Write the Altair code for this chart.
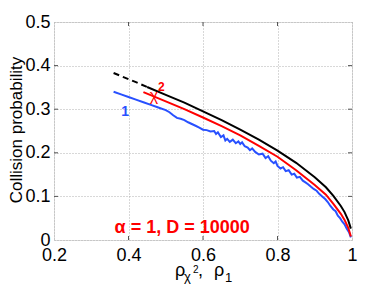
import altair as alt
import pandas as pd

# ---------------- data ----------------
black_dash_x = [0.36, 0.38, 0.40, 0.42, 0.45]
black_dash_y = [0.383, 0.376, 0.369, 0.362, 0.351]

black_x = [0.45, 0.50, 0.55, 0.60, 0.65, 0.70, 0.75, 0.80, 0.85, 0.90,
           0.93, 0.95, 0.97, 0.98, 0.99, 0.997]
black_y = [0.351, 0.333, 0.315, 0.295, 0.275, 0.253, 0.230, 0.205, 0.177, 0.144,
           0.121, 0.101, 0.078, 0.064, 0.045, 0.026]

red_x = [0.44, 0.50, 0.55, 0.60, 0.65, 0.70, 0.75, 0.80, 0.85, 0.90,
         0.93, 0.95, 0.97, 0.98, 0.99, 0.997]
red_y = [0.339, 0.318, 0.300, 0.281, 0.261, 0.240, 0.216, 0.191, 0.160, 0.126,
         0.104, 0.083, 0.060, 0.046, 0.028, 0.008]

blue_x = [0.360, 0.380, 0.400, 0.420, 0.440, 0.460, 0.480, 0.500, 0.510, 0.520,
          0.530, 0.540, 0.550, 0.560, 0.570, 0.580, 0.590, 0.600, 0.610, 0.620,
          0.630, 0.635, 0.640, 0.648, 0.655, 0.660, 0.665, 0.672, 0.680, 0.688,
          0.695, 0.700, 0.705, 0.712, 0.720, 0.726, 0.732, 0.740, 0.750, 0.760,
          0.768, 0.775, 0.782, 0.790, 0.795, 0.800, 0.808, 0.815, 0.822, 0.830,
          0.838, 0.845, 0.852, 0.860, 0.868, 0.875, 0.882, 0.890, 0.897, 0.905,
          0.912, 0.920, 0.928, 0.935, 0.942, 0.950, 0.956, 0.962, 0.968, 0.974,
          0.980, 0.986, 0.992, 0.997]
blue_y = [0.340, 0.334, 0.328, 0.322, 0.316, 0.310, 0.304, 0.298, 0.293, 0.286,
          0.280, 0.278, 0.275, 0.270, 0.266, 0.262, 0.258, 0.253, 0.252, 0.249,
          0.250, 0.243, 0.247, 0.236, 0.240, 0.228, 0.232, 0.225, 0.230, 0.222,
          0.226, 0.220, 0.224, 0.215, 0.212, 0.206, 0.210, 0.202, 0.196, 0.198,
          0.188, 0.192, 0.182, 0.176, 0.180, 0.170, 0.164, 0.167, 0.158, 0.160,
          0.150, 0.152, 0.143, 0.145, 0.136, 0.132, 0.128, 0.122, 0.117, 0.113,
          0.106, 0.100, 0.094, 0.087, 0.078, 0.070, 0.066, 0.056, 0.050, 0.042,
          0.036, 0.026, 0.018, 0.006]

x_ticks = [0.2, 0.4, 0.6, 0.8, 1.0]
y_ticks = [0, 0.1, 0.2, 0.3, 0.4, 0.5]
x_inner_ticks = [0.4, 0.6, 0.8]
y_inner_ticks = [0.1, 0.2, 0.3, 0.4]

label_one = ["1"]
label_one_x = [0.391]
label_one_y = [0.294]
label_chi = ["χ"]
label_chi_x = [0.468]
label_chi_y = [0.330]
label_chi_sup = ["2"]
label_chi_sup_x = [0.488]
label_chi_sup_y = [0.352]
annot_text = ["α = 1, D = 10000"]
annot_x = [0.544]
annot_y = [0.0275]

FONT = "Liberation Sans"
W, H = 298, 218

xs = alt.Scale(domain=[0.2, 1.0], nice=False, zero=False)
ys = alt.Scale(domain=[0.0, 0.5], nice=False, zero=False)

def df(x, y):
    return pd.DataFrame({"x": x, "y": y})

def line(x, y, color, dash=None):
    kw = dict(color=color, strokeWidth=2, clip=True)
    if dash:
        kw["strokeDash"] = dash
    return alt.Chart(df(x, y)).mark_line(**kw).encode(
        x=alt.X("x:Q", scale=xs),
        y=alt.Y("y:Q", scale=ys),
    )

# base with axes and grid
base = alt.Chart(df(black_x, black_y)).mark_point(opacity=0).encode(
    x=alt.X("x:Q", scale=xs, title=None,
            axis=alt.Axis(values=x_ticks, format="~g", grid=True, gridDash=[1, 2],
                          gridColor="#b0b0b0", gridWidth=1, ticks=False, domain=False,
                          labelFont=FONT, labelFontSize=18, labelColor="#000",
                          labelPadding=6, labelFlush=False)),
    y=alt.Y("y:Q", scale=ys, title=None,
            axis=alt.Axis(values=y_ticks, format="~g", grid=True, gridDash=[1, 2],
                          gridColor="#b0b0b0", gridWidth=1, ticks=False, domain=False,
                          labelFont=FONT, labelFontSize=18, labelColor="#000",
                          labelPadding=4, labelFlush=False)),
)

tick_col = "#555555"
xt = pd.DataFrame({"v": x_inner_ticks})
yt = pd.DataFrame({"v": y_inner_ticks})
ticks = [
    alt.Chart(xt).mark_rule(color=tick_col, strokeWidth=1).encode(
        x=alt.X("v:Q", scale=xs), y=alt.value(H), y2=alt.value(H - 4)),
    alt.Chart(xt).mark_rule(color=tick_col, strokeWidth=1).encode(
        x=alt.X("v:Q", scale=xs), y=alt.value(0), y2=alt.value(4)),
    alt.Chart(yt).mark_rule(color=tick_col, strokeWidth=1).encode(
        y=alt.Y("v:Q", scale=ys), x=alt.value(0), x2=alt.value(4)),
    alt.Chart(yt).mark_rule(color=tick_col, strokeWidth=1).encode(
        y=alt.Y("v:Q", scale=ys), x=alt.value(W), x2=alt.value(W - 4)),
]

blue = line(blue_x, blue_y, "#2850ff")
red = line(red_x, red_y, "#ff0000")
black = line(black_x, black_y, "#000000")
black_d = line(black_dash_x, black_dash_y, "#000000", dash=[6, 4])

def txt(labels, x, y, color, size, bold=True, align="center", baseline="middle"):
    d = pd.DataFrame({"x": x, "y": y, "t": labels})
    return alt.Chart(d).mark_text(color=color, fontSize=size, font=FONT,
                                  fontWeight="bold" if bold else "normal",
                                  align=align, baseline=baseline).encode(
        x=alt.X("x:Q", scale=xs), y=alt.Y("y:Q", scale=ys), text="t:N")

t_one = txt(label_one, label_one_x, label_one_y, "#2850ff", 14)
t_chi = txt(label_chi, label_chi_x, label_chi_y, "#ff0000", 16, bold=False)
t_sup = txt(label_chi_sup, label_chi_sup_x, label_chi_sup_y, "#ff0000", 12)
t_ann = txt(annot_text, annot_x, annot_y, "#ff0000", 18)

# axis titles as text in pixel positions
def ptext(s, px, py, size, angle=0, align="left", baseline="alphabetic"):
    kw = dict(text=s, fontSize=size, font=FONT, color="#000", align=align,
              baseline=baseline)
    if angle:
        kw["angle"] = angle
    return alt.Chart(df([0], [0])).mark_text(**kw).encode(
        x=alt.value(px), y=alt.value(py))

titles = [
    ptext("Collision probability", -32, 108, 17, angle=270, align="center"),
    ptext("ρ", 121, 254, 18),
    ptext("χ", 130, 259, 13),
    ptext("2", 139, 251, 10),
    ptext(",", 144, 254, 18),
    ptext("ρ", 160, 254, 18),
    ptext("1", 171, 260, 13),
]

chart = alt.layer(base, *ticks, blue, red, black_d, black, t_one, t_chi, t_sup,
                  t_ann, *titles).properties(
    width=W, height=H,
    padding={"left": 46, "top": 14, "right": 28, "bottom": 44},
    autosize=alt.AutoSizeParams(type="none"),
).configure_view(stroke="#555555", strokeWidth=1).configure(background="white")

chart.save("out.html", embed_options={"renderer": "svg", "actions": False})
